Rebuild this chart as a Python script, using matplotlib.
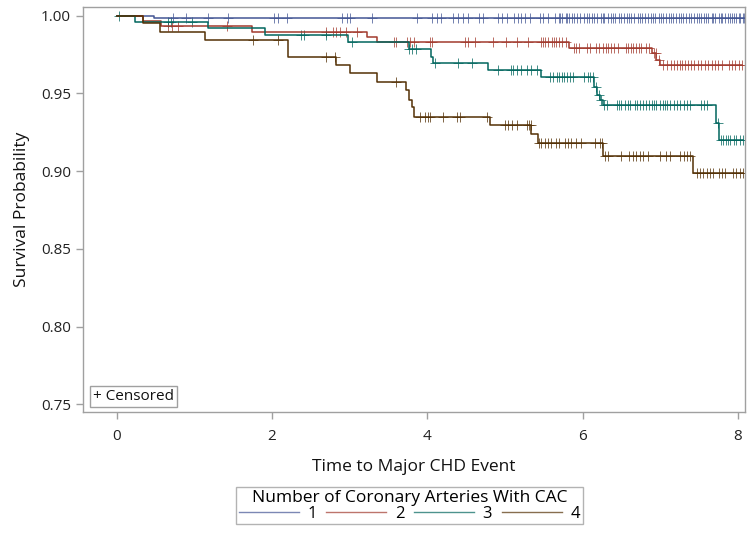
import numpy as np
import matplotlib
matplotlib.use("Agg")
import matplotlib.pyplot as plt
from matplotlib.lines import Line2D

plt.rcParams['font.family'] = ['Open Sans', 'DejaVu Sans']

groups = ["1", "2", "3", "4"]
colors = ["#445694", "#A23A2E", "#01665E", "#543005"]

# Kaplan-Meier step data (event times, survival after event)
g1_times = [0.0, 0.48]
g1_surv = [1.0, 0.9983]
g2_times = [0.0, 0.34, 0.57, 1.74, 3.22, 3.35, 5.82, 6.89, 6.95, 7.00]
g2_surv = [1.0, 0.9965, 0.9936, 0.9897, 0.9865, 0.9829, 0.9790, 0.9758, 0.9715, 0.9683]
g3_times = [0.0, 0.23, 1.18, 1.91, 2.98, 3.76, 4.05, 4.07, 4.78, 5.47, 6.15, 6.19, 6.22, 6.26, 7.72, 7.76]
g3_surv = [1.0, 0.9958, 0.9919, 0.9876, 0.9829, 0.9786, 0.9737, 0.9698, 0.9650, 0.9604, 0.9543, 0.9490, 0.9458, 0.9425, 0.9310, 0.9200]
g4_times = [0.0, 0.34, 0.56, 1.14, 2.20, 2.83, 3.00, 3.35, 3.73, 3.76, 3.80, 3.83, 4.81, 5.34, 5.43, 6.26, 7.42]
g4_surv = [1.0, 0.9951, 0.9895, 0.9844, 0.9736, 0.9683, 0.9630, 0.9573, 0.9520, 0.9460, 0.9410, 0.9350, 0.9295, 0.9237, 0.9179, 0.9100, 0.8986]

# censoring times
g1_cens = [0.72, 0.89, 1.17, 1.43, 2.03, 2.08, 2.19, 2.90, 2.96, 3.00, 3.29, 3.87, 4.06, 4.12,
           4.18, 4.33, 4.40, 4.46, 4.53, 4.66, 4.72, 4.91, 4.96, 5.02, 5.11, 5.17, 5.21, 5.26,
           5.32, 5.45, 5.49, 5.56, 5.64, 5.69, 5.71, 5.74, 5.78, 5.80, 5.83, 5.86, 5.89, 5.93,
           5.97, 6.02, 6.05, 6.08, 6.12, 6.14, 6.19, 6.23, 6.26, 6.28, 6.33, 6.37, 6.39, 6.42,
           6.47, 6.50, 6.53, 6.57, 6.60, 6.62, 6.66, 6.71, 6.74, 6.77, 6.80, 6.84, 6.88, 6.90,
           6.93, 6.98, 7.01, 7.04, 7.07, 7.11, 7.14, 7.16, 7.20, 7.24, 7.27, 7.29, 7.33, 7.37,
           7.40, 7.43, 7.47, 7.50, 7.52, 7.56, 7.59, 7.62, 7.66, 7.68, 7.71, 7.75, 7.78, 7.80,
           7.83, 7.87, 7.90, 7.92, 7.95, 7.98, 8.01, 8.03, 8.06, 8.08]
g2_cens = [0.66, 0.71, 0.79, 1.42, 2.70, 2.78, 2.83, 2.87, 2.95, 3.09, 3.57, 3.60, 3.74, 3.78,
           3.83, 4.03, 4.06, 4.48, 4.53, 4.61, 4.85, 5.01, 5.16, 5.29, 5.47, 5.49, 5.52, 5.56,
           5.60, 5.63, 5.66, 5.70, 5.74, 5.79, 5.89, 5.92, 5.95, 6.05, 6.09, 6.17, 6.21, 6.26,
           6.30, 6.33, 6.36, 6.40, 6.46, 6.56, 6.59, 6.62, 6.65, 6.69, 6.72, 6.75, 6.81, 6.85,
           6.92, 6.94, 6.98, 7.04, 7.08, 7.14, 7.17, 7.21, 7.25, 7.28, 7.32, 7.36, 7.40, 7.44,
           7.48, 7.53, 7.57, 7.61, 7.66, 7.70, 7.74, 7.79, 7.88, 7.92, 7.96, 8.01, 8.05]
g3_cens = [0.03, 0.66, 0.70, 0.97, 2.37, 2.41, 2.70, 3.03, 3.77, 3.80, 3.86, 4.10, 4.39, 4.57,
           4.91, 5.08, 5.10, 5.15, 5.21, 5.28, 5.34, 5.41, 5.58, 5.62, 5.67, 5.70, 5.73, 5.76,
           5.80, 5.84, 5.88, 6.02, 6.07, 6.10, 6.13, 6.17, 6.21, 6.24, 6.28, 6.31, 6.44, 6.47,
           6.50, 6.54, 6.58, 6.61, 6.67, 6.70, 6.74, 6.78, 6.82, 6.86, 6.89, 6.92, 6.95, 6.99,
           7.03, 7.06, 7.09, 7.13, 7.17, 7.22, 7.25, 7.30, 7.34, 7.38, 7.53, 7.56, 7.60, 7.74,
           7.78, 7.81, 7.84, 7.87, 7.90, 7.95, 7.98, 8.02, 8.06]
g4_cens = [1.76, 2.08, 2.70, 2.81, 3.60, 3.90, 3.97, 4.01, 4.04, 4.20, 4.38, 4.42, 4.77, 5.00,
           5.04, 5.09, 5.15, 5.28, 5.31, 5.33, 5.44, 5.47, 5.52, 5.56, 5.59, 5.66, 5.69, 5.77,
           5.81, 5.85, 5.92, 5.98, 6.16, 6.22, 6.25, 6.29, 6.33, 6.50, 6.60, 6.65, 6.69, 6.74,
           6.78, 6.84, 7.00, 7.07, 7.12, 7.25, 7.30, 7.34, 7.38, 7.47, 7.51, 7.55, 7.60, 7.64,
           7.68, 7.75, 7.79, 7.83, 7.94, 7.98, 8.03, 8.07]

x_ticks = [0, 2, 4, 6, 8]
y_ticks = [0.75, 0.80, 0.85, 0.90, 0.95, 1.00]

series = [(g1_times, g1_surv, g1_cens), (g2_times, g2_surv, g2_cens),
          (g3_times, g3_surv, g3_cens), (g4_times, g4_surv, g4_cens)]

fig = plt.figure(figsize=(7.54, 5.37), dpi=100)
ax = fig.add_axes([0.1105, 0.2322, 0.8775, 0.7553])

grey = "#A0A0A0"
handles = []
for (t, s, c), col, lab in zip(series, colors, groups):
    t = np.asarray(t); s = np.asarray(s); c = np.asarray(c)
    tend = c.max() if len(c) else t.max()
    tt = np.append(t, tend)
    ss = np.append(s, s[-1])
    ax.step(tt, ss, where='post', color=col, lw=1.1, zorder=3)
    idx = np.searchsorted(t, c, side='right') - 1
    ax.plot(c, s[idx], linestyle='none', marker='+', markersize=7,
            markeredgewidth=0.7, color=col, alpha=0.75, zorder=2)
    handles.append(Line2D([], [], color=col, lw=1.0, alpha=0.7))

ax.set_xlim(-0.43, 8.09)
ax.set_ylim(0.7449, 1.0058)
ax.set_xticks(x_ticks)
ax.set_xticklabels([str(v) for v in x_ticks])
ax.set_yticks(y_ticks)
ax.set_yticklabels([f"{v:.2f}" for v in y_ticks])
for sp in ax.spines.values():
    sp.set_color(grey)
    sp.set_linewidth(1.0)
ax.tick_params(axis='both', colors=grey, labelcolor='#222222', labelsize=11,
               length=5, width=1.0, pad=4)
ax.tick_params(axis='x', pad=7)
ax.set_xlabel("Time to Major CHD Event", fontsize=12.5, color='#111111', labelpad=11)
ax.set_ylabel("Survival Probability", fontsize=12.5, color='#111111', labelpad=8)

ax.text(0.014, 0.02, "+ Censored", transform=ax.transAxes, fontsize=11,
        color='#111111', ha='left', va='bottom',
        bbox=dict(boxstyle='square,pad=0.2', fc='white', ec=grey, lw=1.0))

leg = fig.legend(handles, groups, title="Number of Coronary Arteries With CAC",
                 ncol=4, loc='lower center', bbox_to_anchor=(0.543, 0.024),
                 fontsize=12, title_fontsize=12.5, handlelength=3.6,
                 handletextpad=0.5, columnspacing=0.6, frameon=True,
                 fancybox=False, edgecolor=grey, borderpad=0.15,
                 labelspacing=0.0, borderaxespad=0.0)
leg.get_frame().set_linewidth(1.0)
leg._legend_box.sep = 0

fig.savefig("out.png", dpi=100)
